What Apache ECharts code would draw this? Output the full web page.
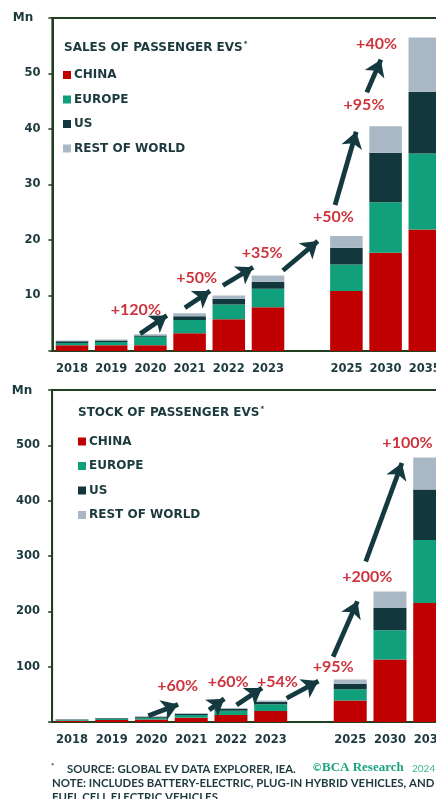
<!DOCTYPE html>
<html>
<head>
<meta charset="utf-8">
<script src="https://cdn.jsdelivr.net/npm/echarts@6/dist/echarts.min.js"></script>
<style>
  html, body { margin: 0; padding: 0; background: #ffffff; }
  #chart { width: 436px; height: 799px; }
</style>
</head>
<body>
<div id="chart"></div>
<script>
// Categories (blank slot separates history from projections)
const years = ['2018', '2019', '2020', '2021', '2022', '2023', '', '2025', '2030', '2035'];
const regions = ['CHINA', 'EUROPE', 'US', 'REST OF WORLD'];

// Annual sales of passenger EVs, millions
const salesChina  = [1.05, 1.05, 1.05, 3.2, 5.7, 7.9, '-', 10.8, 17.7, 21.9];
const salesEurope = [0.4, 0.55, 1.5, 2.4, 2.7, 3.3, '-', 4.8, 9.1, 13.7];
const salesUS     = [0.3, 0.3, 0.25, 0.65, 1.0, 1.3, '-', 3.0, 8.9, 11.1];
const salesRow    = [0.15, 0.15, 0.2, 0.55, 0.6, 1.1, '-', 2.1, 4.8, 9.8];

// Stock of passenger EVs, millions
const stockChina  = [2.3, 3.4, 4.6, 7.5, 12.5, 20.0, '-', 39, 113, 215];
const stockEurope = [1.2, 1.8, 3.2, 5.2, 7.8, 12.0, '-', 20, 53, 114];
const stockUS     = [1.1, 1.5, 1.7, 2.1, 3.0, 4.5, '-', 10, 40, 91];
const stockRow    = [0.5, 0.5, 0.7, 1.2, 2.2, 2.5, '-', 8, 30, 58];

// Growth call-outs
const salesGrowth = ['+120%', '+50%', '+35%', '+50%', '+95%', '+40%'];
const stockGrowth = ['+60%', '+60%', '+54%', '+95%', '+200%', '+100%'];

// Y-axis ranges
const salesMax = 60, salesStep = 10;
const stockMax = 600, stockStep = 100;

// Call-out anchors in data space: x = category position, y = value
const salesLabelAt = [[1.63, 7.4], [3.18, 13.1], [4.85, 17.6], [6.67, 24.2], [7.45, 44.3], [7.77, 55.4]];
const salesArrows = [
  [[1.74, 3.1], [2.42, 6.4]],
  [[2.88, 7.8], [3.52, 10.8]],
  [[3.85, 11.8], [4.62, 15.1]],
  [[5.38, 14.5], [6.27, 19.8]],
  [[6.71, 26.3], [7.25, 39.5]],
  [[7.52, 46.6], [7.88, 52.5]]
];
const stockLabelAt = [[2.66, 64.6], [3.93, 72.9], [5.17, 72.9], [6.57, 100], [7.43, 262.7], [8.44, 504]];
const stockArrows = [
  [[1.92, 11.4], [2.67, 31.5]],
  [[3.45, 21.7], [3.83, 42.0]],
  [[4.14, 30.7], [4.78, 61.5]],
  [[5.4, 42.9], [6.2, 74.0]],
  [[6.57, 118], [7.18, 218]],
  [[7.39, 290], [8.3, 468]]
];

const C_CHINA = '#c00000';
const C_EUROPE = '#10a07c';
const C_US = '#12383e';
const C_ROW = '#a9b8c4';
const C_TEXT = '#1c3a3d';
const C_FRAME = '#1f3f1f';
const C_ARROW = '#143a40';
const C_PCT = '#c0000b';
const FONT = 'Lato, "Open Sans", sans-serif';
const WIDE = '"DejaVu Sans", Lato, sans-serif';

const chart = echarts.init(document.getElementById('chart'), null, { renderer: 'canvas' });

function bars(values, name, color, axisIdx, stack) {
  return {
    type: 'bar', name, stack, data: values,
    xAxisIndex: axisIdx, yAxisIndex: axisIdx,
    barCategoryGap: '17%',
    itemStyle: { color },
    silent: true
  };
}

function callouts(texts, anchors, arrows, xIdx, yIdx) {
  return {
    type: 'scatter', xAxisIndex: xIdx, yAxisIndex: yIdx,
    symbolSize: 0, silent: true, z: 5,
    data: texts.map((t, i) => [anchors[i][0], anchors[i][1], t]),
    label: {
      show: true, position: 'inside',
      formatter: p => p.data[2],
      color: C_PCT, fontFamily: FONT, fontWeight: 'bold', fontSize: 16
    },
    markLine: {
      silent: true, animation: false,
      symbol: ['none', 'arrow'], symbolSize: 16,
      label: { show: false },
      lineStyle: { color: C_ARROW, width: 4.8, type: 'solid' },
      data: arrows.map(a => [{ coord: a[0] }, { coord: a[1] }])
    }
  };
}

const catAxis = (gridIndex) => ({
  type: 'category', gridIndex, data: years,
  axisTick: { show: false },
  axisLine: { lineStyle: { color: C_FRAME, width: 2 } },
  axisLabel: { interval: 0, margin: 12, color: C_TEXT, fontFamily: WIDE, fontWeight: 'bold', fontSize: 11.5 }
});
const posAxis = (gridIndex) => ({
  type: 'value', gridIndex, min: -0.5, max: 9.5, show: false
});
const valAxis = (gridIndex, max, step) => ({
  type: 'value', gridIndex, min: 0, max, interval: step,
  splitLine: { show: false },
  axisLine: { show: true, onZero: false, lineStyle: { color: C_FRAME, width: 2 } },
  axisTick: { show: true, length: 4, lineStyle: { color: C_FRAME, width: 1.5 } },
  axisLabel: {
    margin: 12, color: C_TEXT, fontFamily: WIDE, fontWeight: 'bold', fontSize: 11.5,
    formatter: v => (v === 0 || v === max) ? '' : String(v)
  }
});

const legend = (left, top) => ({
  data: regions, orient: 'vertical', left, top, padding: 0,
  icon: 'rect', itemWidth: 8, itemHeight: 8, itemGap: 10.5,
  selectedMode: false,
  textStyle: { color: C_TEXT, fontFamily: WIDE, fontWeight: 'bold', fontSize: 12, lineHeight: 14, padding: [0, 0, 0, -2] }
});

const heading = (text, left, top) => ({
  text: text + '{s|*}', left, top, padding: 0,
  textStyle: {
    color: C_TEXT, fontFamily: WIDE, fontWeight: 'bold', fontSize: 12,
    rich: { s: { fontSize: 7, color: C_TEXT, fontFamily: WIDE, verticalAlign: 'top', padding: [0, 0, 6, 1] } }
  }
});

const txt = (x, y, text, extra) => ({
  type: 'text', x, y, silent: true,
  style: Object.assign({ text, fill: C_TEXT, font: 'bold 11.3px ' + FONT, verticalAlign: 'middle' }, extra || {})
});

chart.setOption({
  animation: false,
  backgroundColor: '#ffffff',
  title: [
    heading('SALES OF PASSENGER EVS', 64, 41),
    heading('STOCK OF PASSENGER EVS', 78, 406)
  ],
  legend: [legend(63, 68), legend(78, 434.5)],
  grid: [
    { left: 52.4, top: 18, width: 392, height: 333, outerBoundsMode: 'none', show: true, borderColor: C_FRAME, borderWidth: 2 },
    { left: 52.1, top: 390, width: 397.5, height: 332, outerBoundsMode: 'none', show: true, borderColor: C_FRAME, borderWidth: 2 }
  ],
  xAxis: [catAxis(0), catAxis(1), posAxis(0), posAxis(1)],
  yAxis: [valAxis(0, salesMax, salesStep), valAxis(1, stockMax, stockStep)],
  series: [
    bars(salesChina, regions[0], C_CHINA, 0, 'sales'),
    bars(salesEurope, regions[1], C_EUROPE, 0, 'sales'),
    bars(salesUS, regions[2], C_US, 0, 'sales'),
    bars(salesRow, regions[3], C_ROW, 0, 'sales'),
    bars(stockChina, regions[0], C_CHINA, 1, 'stock'),
    bars(stockEurope, regions[1], C_EUROPE, 1, 'stock'),
    bars(stockUS, regions[2], C_US, 1, 'stock'),
    bars(stockRow, regions[3], C_ROW, 1, 'stock'),
    callouts(salesGrowth, salesLabelAt, salesArrows, 2, 0),
    callouts(stockGrowth, stockLabelAt, stockArrows, 3, 1)
  ],
  graphic: [
    txt(23, 18, 'Mn', { font: 'bold 12px ' + WIDE, align: 'center' }),
    txt(22, 391, 'Mn', { font: 'bold 12px ' + WIDE, align: 'center' }),
    txt(51, 766, '*', { font: 'bold 8px ' + FONT }),
    txt(67, 769, 'SOURCE: GLOBAL EV DATA EXPLORER, IEA.'),
    txt(313, 768, '\u00A9', { fill: '#1aa37f', font: 'bold 10px ' + FONT }),
    txt(322, 768, 'BCA Research', { fill: '#1aa37f', font: 'bold 13px "Liberation Serif", serif' }),
    txt(412, 769, '2024', { fill: '#3fb495', font: '10px ' + FONT }),
    txt(52, 783, 'NOTE: INCLUDES BATTERY-ELECTRIC, PLUG-IN HYBRID VEHICLES, AND', { font: 'bold 11.4px ' + FONT }),
    txt(52, 797, 'FUEL CELL ELECTRIC VEHICLES.', { font: 'bold 11.4px ' + FONT })
  ]
});
</script>
</body>
</html>
